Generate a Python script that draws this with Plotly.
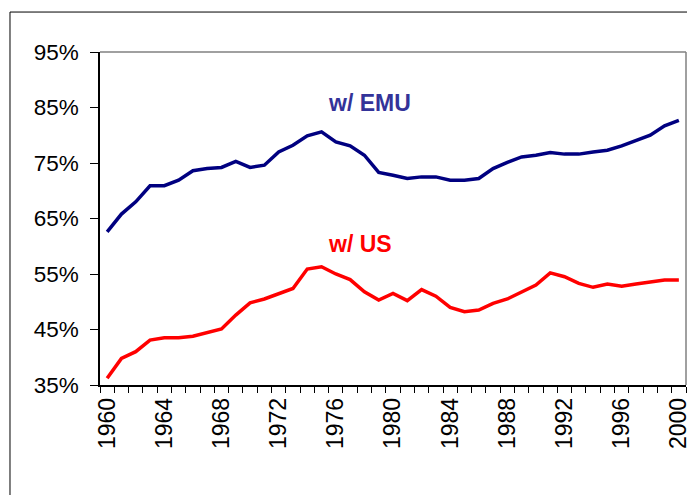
import plotly.graph_objects as go

years = list(range(1960, 2001))
emu = [62.6, 65.8, 68.0, 70.9, 70.9, 71.9, 73.6, 74.0, 74.2, 75.3,
       74.2, 74.6, 77.0, 78.2, 79.9, 80.6, 78.8, 78.1, 76.4, 73.3,
       72.8, 72.2, 72.5, 72.5, 71.9, 71.9, 72.2, 74.0, 75.1, 76.1,
       76.4, 76.9, 76.6, 76.6, 77.0, 77.3, 78.1, 79.0, 80.0, 81.7, 82.7]
us = [36.2, 39.8, 41.0, 43.1, 43.5, 43.5, 43.8, 44.5, 45.1, 47.6,
      49.8, 50.5, 51.5, 52.4, 55.9, 56.3, 55.0, 54.0, 51.8, 50.3,
      51.5, 50.2, 52.2, 51.0, 49.0, 48.2, 48.5, 49.7, 50.5, 51.8,
      53.0, 55.2, 54.5, 53.3, 52.6, 53.2, 52.8, 53.2, 53.5, 53.9, 53.9]
label_years = list(range(1960, 2001, 4))
y_ticks = [0.35, 0.45, 0.55, 0.65, 0.75, 0.85, 0.95]

FONT = "Liberation Sans, Arial, sans-serif"

fig = go.Figure()
fig.add_scatter(x=years, y=[v / 100 for v in emu], mode="lines", name="w/ EMU",
                line=dict(color="#000080", width=3.5))
fig.add_scatter(x=years, y=[v / 100 for v in us], mode="lines", name="w/ US",
                line=dict(color="#FF0000", width=3.5))

fig.add_annotation(x=1975.3, y=0.859, text="<b>w/ EMU</b>", showarrow=False,
                   xanchor="left", font=dict(size=23, color="#333399", family=FONT))
fig.add_annotation(x=1975.3, y=0.604, text="<b>w/ US</b>", showarrow=False,
                   xanchor="left", font=dict(size=23, color="#FF0000", family=FONT))

# outer chart frame and grey plot-area edges (top/right)
fig.add_shape(type="rect", xref="paper", yref="paper", x0=-0.1536, x1=1.2,
              y0=-0.6, y1=1.12, line=dict(color="black", width=1))
fig.add_shape(type="line", xref="paper", yref="paper", x0=0, x1=1, y0=1, y1=1,
              line=dict(color="#808080", width=1.5))
fig.add_shape(type="line", xref="paper", yref="paper", x0=1, x1=1, y0=0, y1=1,
              line=dict(color="#808080", width=1.5))

fig.update_xaxes(range=[1959.5, 2000.5], tickvals=label_years, ticks="",
                 tickangle=-90, showgrid=False, zeroline=False, automargin=False,
                 showline=True, linecolor="black", linewidth=1.5,
                 ticklabelstandoff=2,
                 tickfont=dict(size=23, color="black", family=FONT),
                 minor=dict(tick0=1959.5, dtick=1, ticks="outside", ticklen=6,
                            tickcolor="black", showgrid=False))
fig.update_yaxes(range=[0.35, 0.95], tickvals=y_ticks, tickformat=".0%",
                 ticks="outside", ticklen=8, tickcolor="black", showgrid=False,
                 zeroline=False, showline=True, linecolor="black", linewidth=1.5,
                 ticklabelstandoff=7, automargin=False,
                 tickfont=dict(size=22.5, color="black", family=FONT))
# the page body adds an 8px offset, so the margins are trimmed to compensate
fig.update_layout(width=695, height=495, showlegend=False,
                  plot_bgcolor="white", paper_bgcolor="white",
                  margin=dict(l=92, r=17, t=44, b=118))

fig.write_html("out.html")
